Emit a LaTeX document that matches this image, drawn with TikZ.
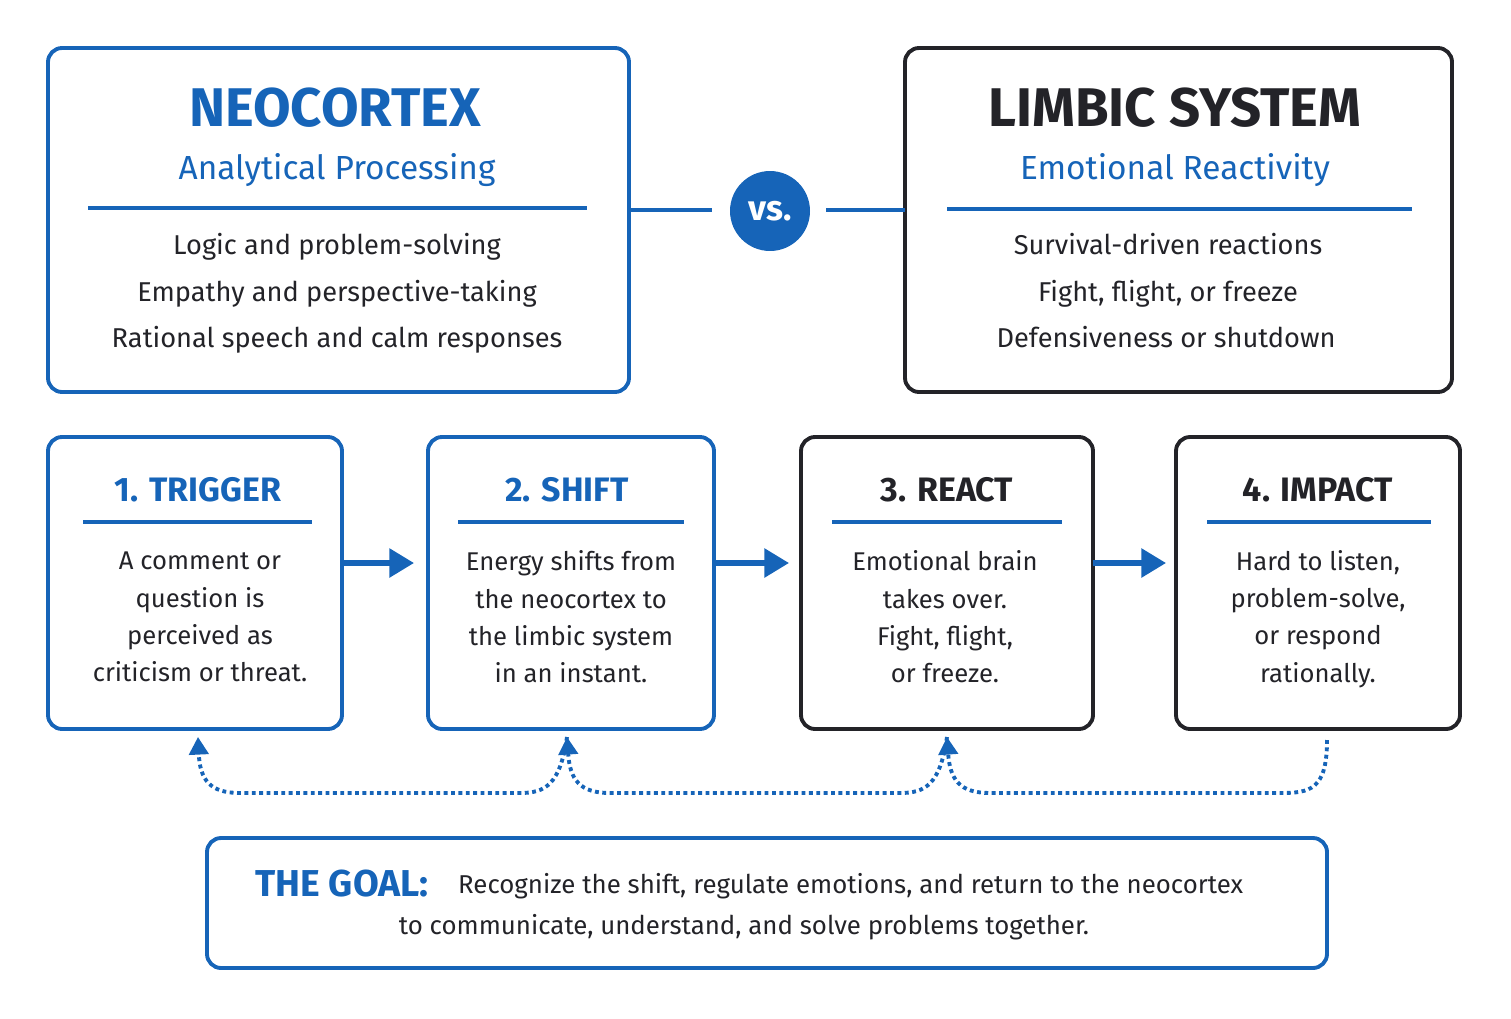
\documentclass[tikz,border=0pt]{standalone}
\usepackage{fontspec}
\setmainfont{Fira Sans}
\usetikzlibrary{arrows.meta}
\definecolor{mainblue}{RGB}{22,100,184}
\definecolor{darkline}{RGB}{35,35,40}
\begin{document}
\begin{tikzpicture}[x=0.02cm,y=-0.02cm,
    box/.style={draw=mainblue,line width=2.2pt,rounded corners=8pt},
    dbox/.style={draw=darkline,line width=2.2pt,rounded corners=8pt},
    rule_line/.style={draw=mainblue,line width=2pt},
    big_title/.style={font=\fontsize{31}{36}\selectfont\bfseries},
    sub_title/.style={font=\fontsize{19}{23}\selectfont,text=mainblue},
    body/.style={font=\fontsize{15.5}{19}\selectfont,text=darkline,text height=11pt,text depth=3pt},
    step_title/.style={font=\fontsize{19.3}{23}\selectfont\bfseries},
    step_text/.style={font=\fontsize{14.6}{21.2}\selectfont,text=darkline,align=center},
    flow/.style={draw=mainblue,line width=3pt,-{Triangle[length=14pt,width=16pt]}},
    loop/.style={draw=mainblue,line width=2.2pt,dotted,-{Triangle[length=10pt,width=11pt]}}]
    \useasboundingbox (0,0) rectangle (1511,1018);

    % top comparison
    \draw[box] (48,48) rectangle (629,392);
    \draw[dbox] (905,48) rectangle (1452,392);
    \node[big_title,text=mainblue] (neo) at (335,108) {NEOCORTEX};
    \node[sub_title] (neosub) at (337,170) {Analytical Processing};
    \draw[rule_line] (88,208) -- (587,208);
    \node[body] (n1) at (337,247) {Logic and problem-solving};
    \node[body] (n2) at (337,294) {Empathy and perspective-taking};
    \node[body] (n3) at (337,340) {Rational speech and calm responses};
    \node[big_title,text=darkline] (lim) at (1175,108) {LIMBIC SYSTEM};
    \node[sub_title] (limsub) at (1175,170) {Emotional Reactivity};
    \draw[rule_line] (947,209) -- (1412,209);
    \node[body] (l1) at (1168,247) {Survival-driven reactions};
    \node[body] (l2) at (1168,294) {Fight, flight, or freeze};
    \node[body] (l3) at (1166,340) {Defensiveness or shutdown};

    \node[circle,fill=mainblue,minimum size=1.6cm,text=white,
          font=\fontsize{20}{24}\selectfont\bfseries] (vs) at (770,211) {vs.};
    \coordinate (neoR) at (629,210);
    \coordinate (limL) at (905,210);
    \draw[mainblue,line width=2.2pt] (neoR) -- (712,210);
    \draw[mainblue,line width=2.2pt] (826,210) -- (limL);

    % steps
    \draw[box] (48,437) rectangle (342,729);
    \draw[box] (428,437) rectangle (714,729);
    \draw[dbox] (801,437) rectangle (1093,729);
    \draw[dbox] (1176,437) rectangle (1460,729);
    \node[step_title,text=mainblue] (t1) at (198,490) {1. TRIGGER};
    \node[step_title,text=mainblue] (t2) at (567,490) {2. SHIFT};
    \node[step_title,text=darkline] (t3) at (947,490) {3. REACT};
    \node[step_title,text=darkline] (t4) at (1318,490) {4. IMPACT};
    \draw[rule_line] (83,522) -- (312,522);
    \draw[rule_line] (458,522) -- (684,522);
    \draw[rule_line] (832,522) -- (1062,522);
    \draw[rule_line] (1207,522) -- (1431,522);
    \node[step_text] (s1) at (200,617) {A comment or\\question is\\perceived as\\criticism or threat.};
    \node[step_text] (s2) at (571,617) {Energy shifts from\\the neocortex to\\the limbic system\\in an instant.};
    \node[step_text] (s3) at (945,617) {Emotional brain\\takes over.\\Fight, flight,\\or freeze.};
    \node[step_text] (s4) at (1318,619) {Hard to listen,\\problem-solve,\\or respond\\rationally.};
    \coordinate (b1) at (342,563);
    \coordinate (b2l) at (414,563);
    \coordinate (b2) at (714,563);
    \coordinate (b3l) at (789,563);
    \coordinate (b3) at (1093,563);
    \coordinate (b4l) at (1166,563);
    \draw[flow] (b1) -- (b2l);
    \draw[flow] (b2) -- (b3l);
    \draw[flow] (b3) -- (b4l);

    % feedback loop
    \coordinate (u1) at (198,737);
    \coordinate (u2) at (567,737);
    \coordinate (u3) at (947,737);
    \coordinate (u4) at (1327,740);
    \draw[loop] (u4) .. controls (1327,790) and (1310,793) .. (1280,793) -- (990,793)
        .. controls (960,793) and (950,780) .. (u3);
    \draw[loop] (u3) .. controls (940,785) and (925,793) .. (900,793) -- (610,793)
        .. controls (580,793) and (570,780) .. (u2);
    \draw[loop] (u2) .. controls (560,785) and (545,793) .. (520,793) -- (240,793)
        .. controls (210,793) and (200,780) .. (u1);

    % goal
    \draw[box] (207,838) rectangle (1327,968);
    \node[font=\fontsize{21.3}{25}\selectfont\bfseries,text=mainblue] (goal) at (342,884) {THE GOAL:};
    \node[font=\fontsize{14.7}{18}\selectfont,text=darkline,anchor=west] (g1) at (452,886) {Recognize the shift, regulate emotions, and return to the neocortex};
    \node[font=\fontsize{14.7}{18}\selectfont,text=darkline] (g2) at (744,927) {to communicate, understand, and solve problems together.};
\end{tikzpicture}
\end{document}
